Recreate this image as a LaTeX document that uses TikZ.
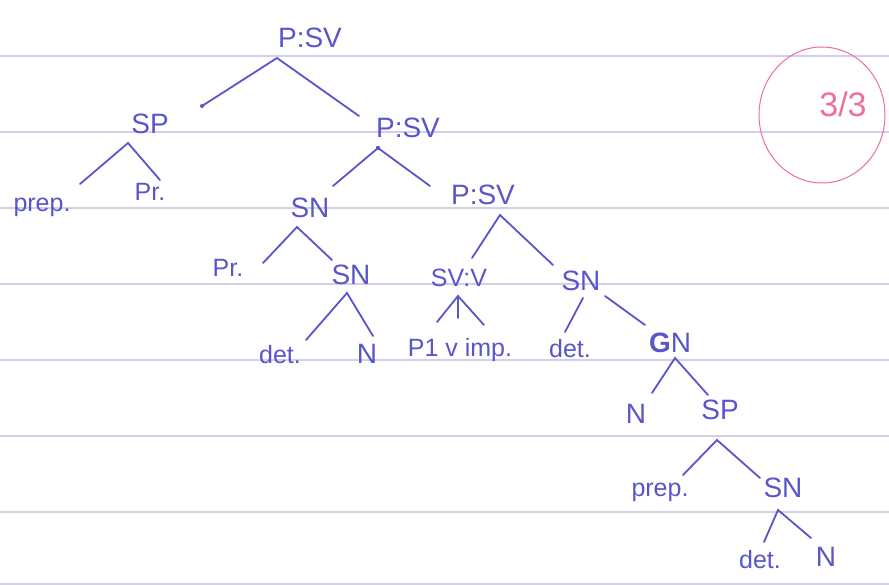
\documentclass[tikz,border=0pt]{standalone}
\usepackage{fontspec}
\setmainfont{Liberation Sans}
\definecolor{ink}{RGB}{88,86,200}
\definecolor{rule}{RGB}{210,208,232}
\definecolor{marker}{RGB}{236,112,152}
\tikzset{
  lab/.style={text=ink, inner sep=0pt, font=\fontsize{28}{28}\selectfont},
  small/.style={lab, font=\fontsize{25}{25}\selectfont},
  branch/.style={draw=ink, line width=1.8pt, line cap=round},
  ruling/.style={draw=rule, line width=1.4pt},
}
\begin{document}
\begin{tikzpicture}[x=1pt,y=-1pt]
\useasboundingbox (0,0) rectangle (889,585);
\fill[white] (0,0) rectangle (889,585);
% ruled paper
\foreach \yy in {56,132,208,284,360,436,512,584}
  \draw[ruling] (0,\yy) -- (889,\yy);

% grade circle
\draw[marker, line width=1pt] (822,115) ellipse [x radius=63, y radius=68];
\node[lab, text=marker, font=\fontsize{34}{34}\selectfont] (grade) at (843,104) {3/3};

% labels
\node[lab] (root) at (310,38) {P:SV};
\node[lab] (sp1)  at (150,124) {SP};
\node[lab] (psv2) at (408,128) {P:SV};
\node[small] (prep1) at (42,207) {prep.};
\node[small] (pr1)  at (150,192) {Pr.};
\node[lab] (sn1)  at (310,208) {SN};
\node[lab] (psv3) at (483,195) {P:SV};
\node[small] (pr2)  at (228,268) {Pr.};
\node[lab] (sn2)  at (351,275) {SN};
\node[small] (svv)  at (459,278) {SV:V};
\node[lab] (sn3)  at (581,281) {SN};
\node[small] (det1) at (280,355) {det.};
\node[lab] (n1)   at (367,354) {N};
\node[small] (pimp) at (460,350) {P1 v imp.};
\node[small] (det2) at (570,349) {det.};
\node[lab] (gn)   at (670,343) {\textbf{G}N};
\node[lab] (n2)   at (636,414) {N};
\node[lab] (sp2)  at (720,410) {SP};
\node[small] (prep2) at (660,492) {prep.};
\node[lab] (sn4)  at (783,488) {SN};
\node[small] (det3) at (760,560) {det.};
\node[lab] (n3)   at (826,557) {N};

% branch points and branch ends
\coordinate (root-a) at (277,58);
\coordinate (root-l) at (202,106);
\coordinate (root-r) at (359,116);
\coordinate (psv2-a) at (378,148);
\coordinate (psv2-l) at (333,186);
\coordinate (psv2-r) at (430,186);
\coordinate (sp1-a) at (128,143);
\coordinate (sp1-l) at (80,184);
\coordinate (sp1-r) at (160,180);
\coordinate (sn1-a) at (297,227);
\coordinate (sn1-l) at (263,263);
\coordinate (sn1-r) at (332,260);
\coordinate (psv3-a) at (500,215);
\coordinate (psv3-l) at (472,258);
\coordinate (psv3-r) at (553,265);
\coordinate (sn2-a) at (347,293);
\coordinate (sn2-l) at (306,340);
\coordinate (sn2-r) at (373,336);
\coordinate (svv-a) at (458,296);
\coordinate (svv-l) at (437,322);
\coordinate (svv-m) at (458,318);
\coordinate (svv-r) at (484,325);
\coordinate (sn3-la) at (583,298);
\coordinate (sn3-l) at (565,332);
\coordinate (sn3-ra) at (605,296);
\coordinate (sn3-r) at (645,325);
\coordinate (gn-a) at (675,358);
\coordinate (gn-l) at (652,393);
\coordinate (gn-r) at (708,395);
\coordinate (sp2-a) at (717,440);
\coordinate (sp2-l) at (683,475);
\coordinate (sp2-r) at (760,478);
\coordinate (sn4-a) at (778,510);
\coordinate (sn4-l) at (764,542);
\coordinate (sn4-r) at (811,538);

% branches
\draw[branch] (root-l) -- (root-a) -- (root-r);
\fill[ink] (root-l) circle (2pt);
\draw[branch] (psv2-l) -- (psv2-a) -- (psv2-r);
\fill[ink] (psv2-a) circle (2.2pt);
\draw[branch] (sp1-l) -- (sp1-a) -- (sp1-r);
\draw[branch] (sn1-l) -- (sn1-a) -- (sn1-r);
\draw[branch] (psv3-l) -- (psv3-a) -- (psv3-r);
\draw[branch] (sn2-l) -- (sn2-a) -- (sn2-r);
\draw[branch] (svv-l) -- (svv-a) -- (svv-r);
\draw[branch] (svv-a) -- (svv-m);
\draw[branch] (sn3-la) -- (sn3-l);
\draw[branch] (sn3-ra) -- (sn3-r);
\draw[branch] (gn-l) -- (gn-a) -- (gn-r);
\draw[branch] (sp2-l) -- (sp2-a) -- (sp2-r);
\draw[branch] (sn4-l) -- (sn4-a) -- (sn4-r);
\end{tikzpicture}
\end{document}
